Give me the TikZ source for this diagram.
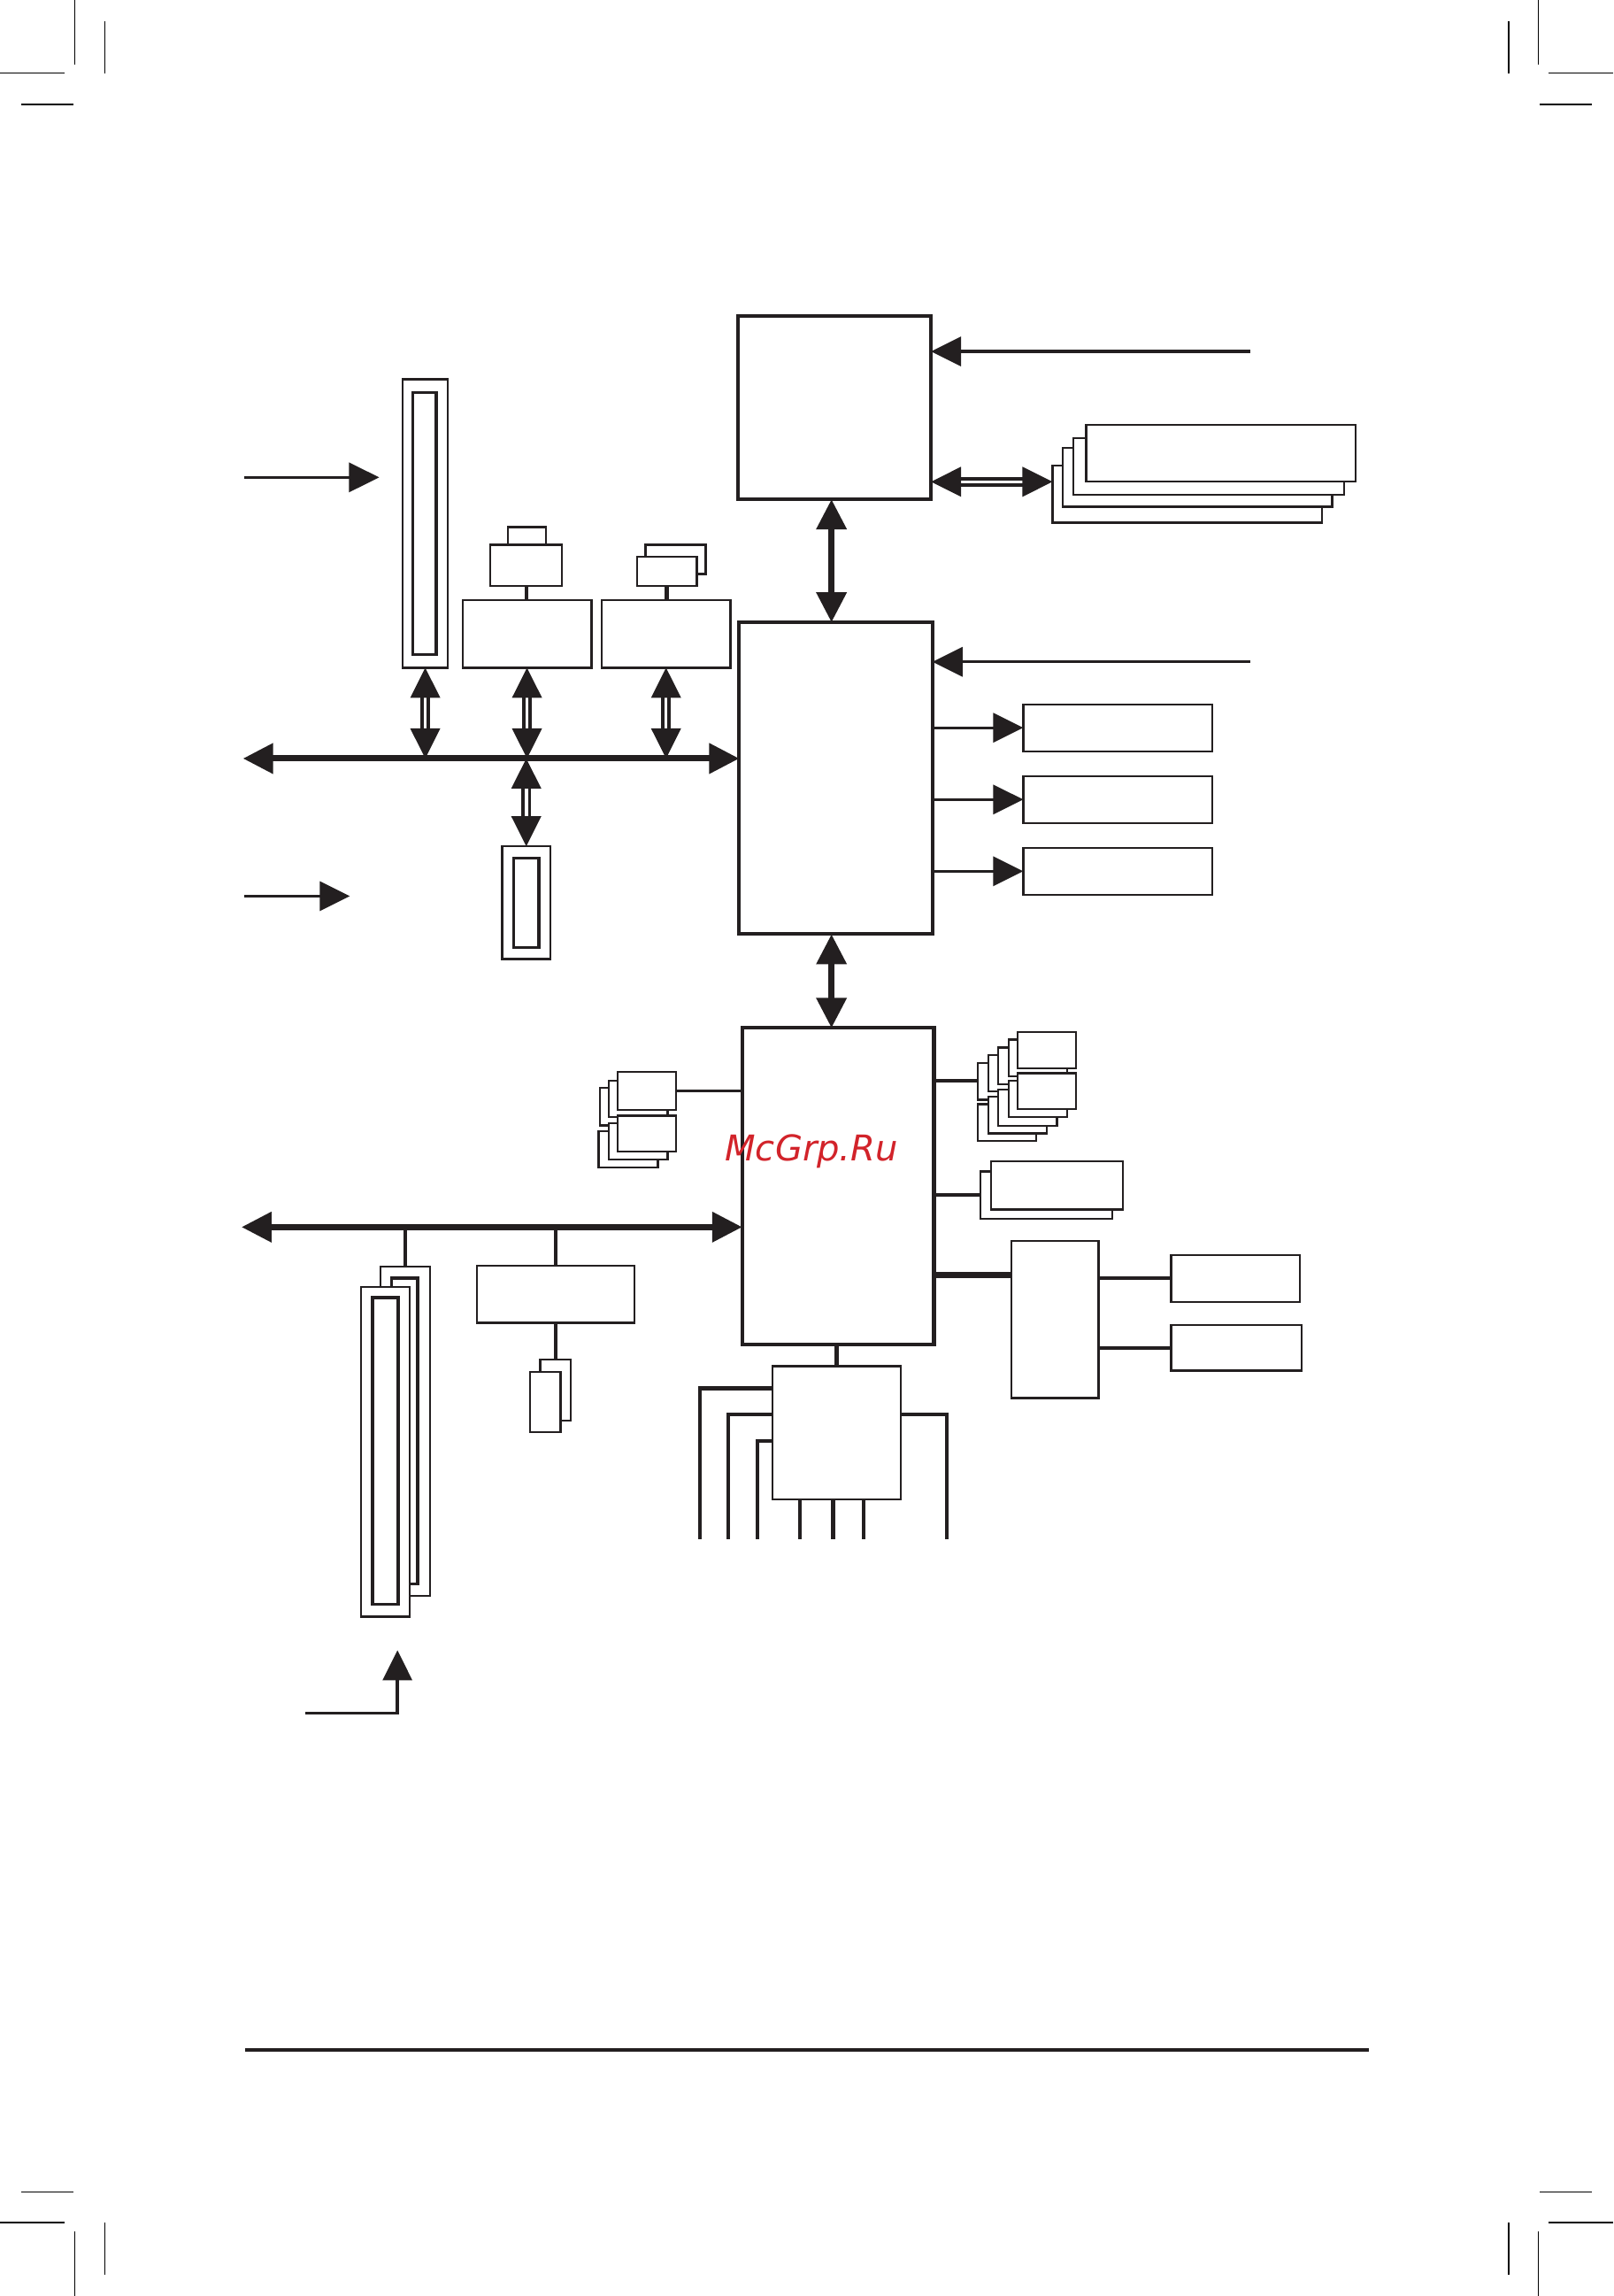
\documentclass[tikz,border=0pt]{standalone}
\usepackage{fontspec}
\newfontfamily\wmfont{DejaVu Sans}
\usetikzlibrary{arrows.meta, fit}
\definecolor{ink}  {HTML}{231F20}
\definecolor{wmred}{HTML}{D2232A}

\tikzset{
  chip/.style={draw=ink, line width=1.15pt, fill=white, inner sep=0pt, outer sep=0pt},
  blk/.style={draw=ink, line width=0.65pt, fill=white, inner sep=0pt, outer sep=0pt},
  slotin/.style={blk, line width=1pt},
  wire/.style={draw=ink, line width=0.95pt},
  stem/.style={draw=ink, line width=1.25pt},
  bus/.style={draw=ink, line width=2pt},
  dbl/.style={draw=ink, line width=1.1pt, double=white, double distance=1pt},
  crop/.style={draw=black, line width=0.4pt},
  >={Triangle[length=3.4mm, width=3.3mm]},
}

\begin{document}
\begin{tikzpicture}[x=0.1654mm, y=-0.1654mm]
  \path[use as bounding box, fill=white] (0,0) rectangle (1102,1568);

  % crop marks
  \draw[crop] (51,0) -- (51,44) (71.5,14.5) -- (71.5,50) (0,50) -- (44,50) (14.5,71.3) -- (50,71.3);
  \draw[crop] (1051,0) -- (1051,44) (1030.5,14.5) -- (1030.5,50) (1102,50) -- (1058,50) (1087.5,71.3) -- (1052,71.3);
  \draw[crop] (0,1517.7) -- (44,1517.7) (14.5,1497) -- (50,1497) (51,1524) -- (51,1568) (71.5,1517.7) -- (71.5,1553.5);
  \draw[crop] (1102,1517.7) -- (1058,1517.7) (1087.5,1497) -- (1052,1497) (1051,1524) -- (1051,1568) (1030.5,1517.7) -- (1030.5,1553.5);

  % processor and memory
  \node[chip, fit={(504,216) (636,341)}] (cpu) {};
  \node[blk, fit={(719,318) (903,357)}] (mem4) {};
  \node[blk, fit={(726,306) (910,346)}] (mem3) {};
  \node[blk, fit={(733,299) (918,338)}] (mem2) {};
  \node[blk, fit={(742,290) (926,329)}] (mem1) {};
  \coordinate (clkA) at (854,240);
  \draw[wire, ->] (clkA) -- (cpu.east |- clkA);
  \draw[dbl, <->] (cpu.east |- 0,329) -- (mem4.west |- 0,329);

  % north bridge
  \node[chip, fit={(505,425) (637,638)}] (nb) {};
  \draw[bus, <->] (cpu.south -| 568,0) -- (nb.north -| 568,0);
  \coordinate (clkB) at (854,452);
  \draw[wire, ->] (clkB) -- (nb.east |- clkB);
  \node[blk, fit={(699,481) (828,513)}] (out1) {};
  \node[blk, fit={(699,530) (828,562)}] (out2) {};
  \node[blk, fit={(699,579) (828,611)}] (out3) {};
  \draw[wire, ->] (nb.east |- out1.west) -- (out1.west);
  \draw[wire, ->] (nb.east |- out2.west) -- (out2.west);
  \draw[wire, ->] (nb.east |- out3.west) -- (out3.west);

  % upper left: slot, controllers, bus
  \node[blk, fit={(275,259) (306,456)}] (gfx) {};
  \node[slotin, fit={(282,268) (298,447)}] (gfxin) {};
  \coordinate (inA) at (167,326);
  \coordinate (inAend) at (259,326);
  \draw[wire, ->] (inA) -- (inAend);

  \node[blk, fit={(347,360) (373,372)}] (tabA) {};
  \node[blk, fit={(335,372) (384,400)}] (capA) {};
  \node[blk, fit={(316,410) (404,456)}] (ctlA) {};
  \draw[stem] (capA.south) -- (capA.south |- ctlA.north);
  \node[blk, fit={(441,372) (482,392)}] (capB2) {};
  \node[blk, fit={(435,380) (476,400)}] (capB) {};
  \node[blk, fit={(411,410) (499,456)}] (ctlB) {};
  \draw[stem] (capB.south) -- (capB.south |- ctlB.north);

  \coordinate (busA) at (166,518);
  \draw[bus, <->] (busA) -- (nb.west |- busA);
  \draw[dbl, <->] (gfx.south) -- (gfx.south |- busA);
  \draw[dbl, <->] (ctlA.south) -- (ctlA.south |- busA);
  \draw[dbl, <->] (ctlB.south) -- (ctlB.south |- busA);
  \node[blk, fit={(343,578) (376,655)}] (slotS) {};
  \node[slotin, fit={(351,586) (368,647)}] (slotSin) {};
  \draw[dbl, <->] (slotS.north |- busA) -- (slotS.north);
  \coordinate (inB) at (167,612);
  \coordinate (inBend) at (239,612);
  \draw[wire, ->] (inB) -- (inBend);

  % south bridge
  \node[chip, fit={(507,702) (638,918)}] (sb) {};
  \draw[bus, <->] (nb.south -| 568,0) -- (sb.north -| 568,0);

  % ports left of south bridge
  \node[blk, fit={(410,743) (450,768.5)}] (lu3) {};
  \node[blk, fit={(416,738) (456,763)}] (lu2) {};
  \node[blk, fit={(422,732) (462,758)}] (lu1) {};
  \node[blk, fit={(409,772.5) (449.5,797.5)}] (ll3) {};
  \node[blk, fit={(416,767) (456,792)}] (ll2) {};
  \node[blk, fit={(422,762) (462,786.6)}] (ll1) {};
  \draw[wire, line width=1.1pt] (lu1.east) -- (sb.west |- lu1.east);

  % ports right of south bridge
  \node[blk, fit={(668,726) (708,751)}] (ru5) {};
  \node[blk, fit={(675,720.5) (715,745.5)}] (ru4) {};
  \node[blk, fit={(682,715.4) (722,740.4)}] (ru3) {};
  \node[blk, fit={(689,710) (729,735)}] (ru2) {};
  \node[blk, fit={(695,705) (735,729.6)}] (ru1) {};
  \node[blk, fit={(668,754) (708,779)}] (rl5) {};
  \node[blk, fit={(675,749) (715,774)}] (rl4) {};
  \node[blk, fit={(682,744) (722,769)}] (rl3) {};
  \node[blk, fit={(689,738) (729,763)}] (rl2) {};
  \node[blk, fit={(695,733) (735,757.6)}] (rl1) {};
  \draw[wire, line width=1.1pt] (sb.east |- 0,738) -- (ru5.west |- 0,738);

  \node[blk, fit={(669.7,800) (760,832.5)}] (wide2) {};
  \node[blk, fit={(677,793) (767,826)}] (wide1) {};
  \draw[wire, line width=1.1pt] (sb.east |- wide2.west) -- (wide2.west);

  \node[blk, fit={(691,847.5) (750.5,954.7)}] (sio) {};
  \node[blk, fit={(800,857) (888,889)}] (dev1) {};
  \node[blk, fit={(800,905) (889,936)}] (dev2) {};
  \draw[bus] (sb.east |- 0,871) -- (sio.west |- 0,871);
  \draw[wire, line width=1.1pt] (sio.east |- dev1.west) -- (dev1.west);
  \draw[wire, line width=1.1pt] (sio.east |- dev2.west) -- (dev2.west);

  % lower bus with slots
  \coordinate (busB) at (165,838);
  \draw[bus, <->] (busB) -- (sb.west |- busB);
  \node[blk, fit={(260,864.8) (293.8,1090)}] (slotB) {};
  \node[slotin, fit={(267.6,872.8) (285.4,1081.6)}] (slotBin) {};
  \node[blk, fit={(246.5,878.7) (280,1104)}] (slotF) {};
  \node[slotin, fit={(254.5,886.3) (272,1095.5)}] (slotFin) {};
  \draw[stem] (slotB.north) -- (slotB.north |- busB);
  \node[blk, fit={(326,864.5) (433.5,903.4)}] (ctlC) {};
  \draw[stem] (ctlC.north) -- (ctlC.north |- busB);
  \node[blk, fit={(369,928.6) (390,970)}] (smB) {};
  \node[blk, fit={(362,937) (383,978)}] (smF) {};
  \draw[stem] (smB.north) -- (smB.north |- ctlC.south);
  \coordinate (pw) at (208.6,1170);
  \coordinate (pwtip) at (271.5,1127);
  \draw[wire, ->] (pw) -| (pwtip);

  % hub below south bridge
  \node[blk, fit={(527.6,933) (615.5,1024)}] (hub) {};
  \draw[stem] (hub.north) -- (hub.north |- sb.south);
  \coordinate (p1) at (478,1051);
  \coordinate (p2) at (497.4,1051);
  \coordinate (p3) at (517.3,1051);
  \coordinate (p4) at (546.5,1051);
  \coordinate (p5) at (569,1051);
  \coordinate (p6) at (590,1051);
  \coordinate (p7) at (646.7,1051);
  \draw[stem] (hub.west |- 0,948) -| (p1);
  \draw[stem] (hub.west |- 0,966) -| (p2);
  \draw[stem] (hub.west |- 0,984) -| (p3);
  \draw[stem] (hub.south -| p4) -- (p4);
  \draw[stem] (hub.south -| p5) -- (p5);
  \draw[stem] (hub.south -| p6) -- (p6);
  \draw[stem] (hub.east |- 0,966) -| (p7);

  \node[text=wmred, font=\wmfont\itshape\fontsize{11.4}{13}\selectfont, anchor=base, inner sep=0pt] (wm) at (554.4,793) {McGrp.Ru};

  % bottom rule
  \draw[ink, line width=1.15pt] (167.5,1400) -- (935,1400);
\end{tikzpicture}
\end{document}
